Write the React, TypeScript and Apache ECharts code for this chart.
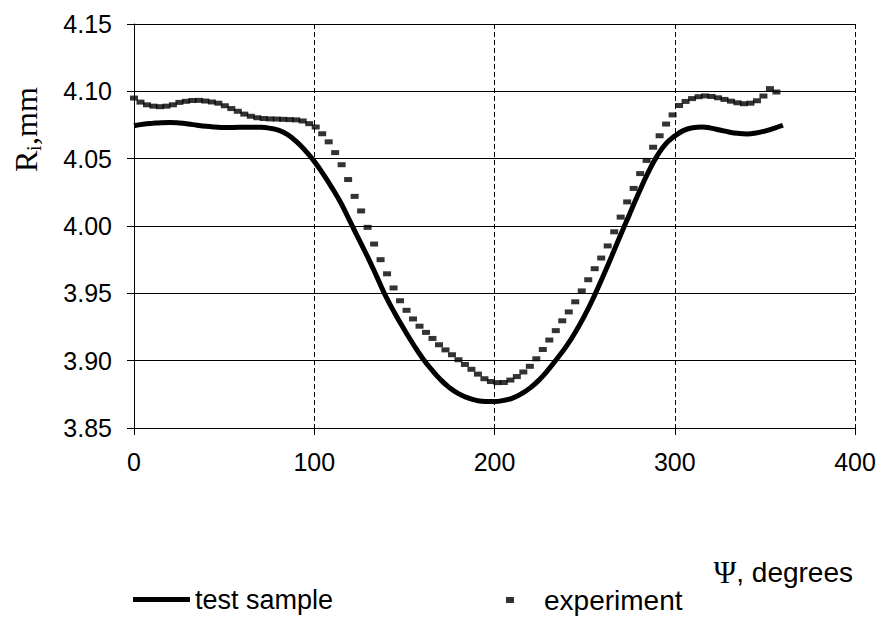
import React, { useEffect, useRef } from "react";
import * as echarts from "echarts";

const xTicks = [0, 100, 200, 300, 400];
const yTicks = [3.85, 3.9, 3.95, 4.0, 4.05, 4.1, 4.15];

const sampleAngles = [
  0, 5, 10, 15, 20, 25, 30, 35, 40, 45, 50, 55, 60, 65, 70, 75, 80, 85, 90, 95,
  100, 105, 110, 115, 120, 125, 130, 135, 140, 145, 150, 155, 160, 165, 170, 175,
  180, 185, 190, 195, 200, 205, 210, 215, 220, 225, 230, 235, 240, 245, 250, 255,
  260, 265, 270, 275, 280, 285, 290, 295, 300, 305, 310, 315, 320, 325, 330, 335,
  340, 345, 350, 355, 360,
];
const sampleValues = [
  4.0745, 4.0755, 4.0762, 4.0767, 4.0768, 4.0765, 4.0758, 4.0748, 4.074, 4.0735,
  4.0732, 4.0732, 4.0733, 4.0734, 4.0733, 4.0727, 4.0712, 4.068, 4.0628, 4.056,
  4.048, 4.0385, 4.028, 4.0165, 4.003, 3.9895, 3.976, 3.9615, 3.947, 3.9345,
  3.923, 3.912, 3.902, 3.8935, 3.886, 3.88, 3.8755, 3.8725, 3.8705, 3.8697,
  3.8697, 3.8705, 3.8722, 3.8755, 3.88, 3.886, 3.8935, 3.902, 3.911, 3.9215,
  3.9335, 3.947, 3.962, 3.9775, 3.9935, 4.009, 4.0245, 4.039, 4.0515, 4.061,
  4.0668, 4.071, 4.073, 4.0735, 4.0727, 4.0713, 4.0698, 4.0688, 4.0684, 4.069,
  4.0705, 4.0725, 4.0748,
];

const expAngles = [
  0, 3.6, 7.2, 10.8, 14.4, 18, 21.6, 25.2, 28.8, 32.4, 36, 39.6, 43.2, 46.8, 50.4,
  54, 57.6, 61.2, 64.8, 68.4, 72, 75.6, 79.2, 82.8, 86.4, 90, 93.6, 97.2, 100.8,
  104.4, 108, 111.6, 115.2, 118.8, 122.4, 126, 129.6, 133.2, 136.8, 140.4, 144,
  147.6, 151.2, 154.8, 158.4, 162, 165.6, 169.2, 172.8, 176.4, 180, 183.6, 187.2,
  190.8, 194.4, 198, 201.6, 205.2, 208.8, 212.4, 216, 219.6, 223.2, 226.8, 230.4,
  234, 237.6, 241.2, 244.8, 248.4, 252, 255.6, 259.2, 262.8, 266.4, 270, 273.6,
  277.2, 280.8, 284.4, 288, 291.6, 295.2, 298.8, 302.4, 306, 309.6, 313.2, 316.8,
  320.4, 324, 327.6, 331.2, 334.8, 338.4, 342, 345.6, 349.2, 352.8, 356.4,
];
const expValues = [
  4.095, 4.092, 4.09, 4.089, 4.0886, 4.089, 4.09, 4.0918, 4.0926, 4.0932, 4.0933,
  4.0928, 4.0921, 4.0912, 4.0893, 4.0872, 4.0852, 4.0831, 4.0815, 4.0804, 4.0798,
  4.0795, 4.0794, 4.0792, 4.079, 4.0788, 4.078, 4.076, 4.0735, 4.0685, 4.0625,
  4.0545, 4.0455, 4.0345, 4.022, 4.0112, 3.999, 3.9866, 3.975, 3.9645, 3.954,
  3.9445, 3.9374, 3.931, 3.9256, 3.921, 3.9165, 3.9118, 3.908, 3.9044, 3.9007,
  3.8972, 3.8936, 3.89, 3.8866, 3.8845, 3.8837, 3.8838, 3.8856, 3.8882, 3.8916,
  3.8958, 3.9014, 3.9083, 3.9153, 3.9223, 3.9296, 3.9362, 3.9437, 3.9518, 3.9601,
  3.9683, 3.9762, 3.9852, 3.9957, 4.0066, 4.0179, 4.0279, 4.0389, 4.0487, 4.0585,
  4.067, 4.0757, 4.0825, 4.0895, 4.0925, 4.0946, 4.096, 4.0966, 4.0962, 4.0952,
  4.094, 4.0927, 4.0915, 4.0908, 4.0912, 4.093, 4.0965, 4.102, 4.0995,
];

const SANS = "Liberation Sans";
const SERIF = "Liberation Serif";

export default function App() {
  const ref = useRef<HTMLDivElement>(null);
  useEffect(() => {
    const chart = echarts.init(ref.current!, null, { renderer: "svg" });
    chart.setOption({
      animation: false,
      backgroundColor: "#fff",
      grid: {
        left: 134,
        right: 22,
        top: 24,
        bottom: 201,
        containLabel: false,
        outerBoundsMode: "none",
      },
      xAxis: {
        type: "value",
        min: xTicks[0],
        max: xTicks[xTicks.length - 1],
        interval: 100,
        axisLine: { show: true, onZero: false, lineStyle: { color: "#000", width: 1 } },
        axisTick: { show: true, length: 7, lineStyle: { color: "#000", width: 1 } },
        axisLabel: { color: "#000", fontSize: 25, fontFamily: SANS, margin: 21 },
        splitLine: { show: true, lineStyle: { color: "#000", width: 1, type: [5, 3] } },
      },
      yAxis: {
        type: "value",
        min: yTicks[0],
        max: yTicks[yTicks.length - 1],
        interval: 0.05,
        axisLine: { show: true, onZero: false, lineStyle: { color: "#000", width: 1 } },
        axisTick: { show: true, length: 7, lineStyle: { color: "#000", width: 1 } },
        axisLabel: {
          color: "#000",
          fontSize: 25,
          fontFamily: SANS,
          margin: 22,
          formatter: (v: number) => v.toFixed(2),
        },
        splitLine: { show: true, lineStyle: { color: "#000", width: 1, type: "solid" } },
      },
      legend: [
        {
          data: [{ name: "test sample", icon: "rect" }],
          left: 133,
          top: 586,
          padding: 0,
          itemWidth: 57,
          itemHeight: 5,
          itemStyle: { color: "#000" },
          textStyle: { color: "#000", fontSize: 27, fontFamily: SANS },
        },
        {
          data: [{ name: "experiment", icon: "rect" }],
          left: 506,
          top: 586,
          padding: 0,
          itemWidth: 8,
          itemHeight: 6,
          itemStyle: { color: "#000" },
          textStyle: {
            color: "#000",
            fontSize: 28,
            fontFamily: SANS,
            padding: [0, 0, 0, 25],
          },
        },
      ],
      graphic: [
        {
          type: "text",
          x: 853,
          y: 572,
          style: {
            text: "{s|Ψ}{t|, degrees}",
            align: "right",
            verticalAlign: "middle",
            rich: {
              s: { fontFamily: SERIF, fontSize: 31, fill: "#000" },
              t: { fontFamily: SANS, fontSize: 28, fill: "#000" },
            },
          },
        },
        {
          type: "group",
          x: 26,
          y: 172,
          rotation: Math.PI / 2,
          children: [
            {
              type: "text",
              x: 0,
              y: 0,
              style: {
                text: "R",
                fontFamily: SERIF,
                fontSize: 32,
                fill: "#000",
                align: "left",
                verticalAlign: "middle",
              },
            },
            {
              type: "text",
              x: 21,
              y: 8,
              style: {
                text: "i",
                fontFamily: SERIF,
                fontSize: 20,
                fill: "#000",
                align: "left",
                verticalAlign: "middle",
              },
            },
            {
              type: "text",
              x: 27,
              y: 0,
              style: {
                text: ",mm",
                fontFamily: SERIF,
                fontSize: 32,
                fill: "#000",
                align: "left",
                verticalAlign: "middle",
              },
            },
          ],
        },
      ],
      series: [
        {
          name: "test sample",
          type: "line",
          data: sampleAngles.map((a, i) => [a, sampleValues[i]]),
          smooth: true,
          symbol: "none",
          showSymbol: false,
          lineStyle: { color: "#000", width: 5 },
          itemStyle: { color: "#000" },
          z: 3,
        },
        {
          name: "experiment",
          type: "scatter",
          data: expAngles.map((a, i) => [a, expValues[i]]),
          symbol: "rect",
          symbolSize: [8, 5],
          itemStyle: { color: "#000" },
          z: 4,
        },
      ],
    });
    return () => chart.dispose();
  }, []);
  return (
    <div
      ref={ref}
      style={{ position: "fixed", left: 0, top: 0, width: 877, height: 629, background: "#fff" }}
    />
  );
}
